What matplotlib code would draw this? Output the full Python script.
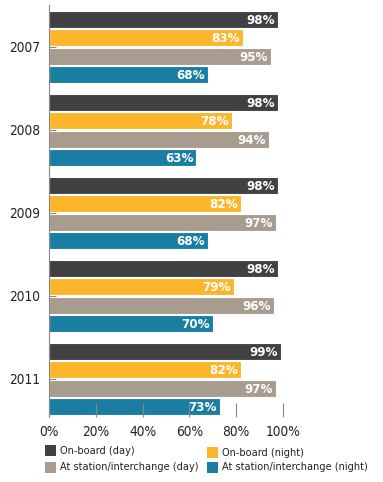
import matplotlib
matplotlib.use("Agg")
import matplotlib.pyplot as plt
from matplotlib.patches import Rectangle

plt.rcParams['font.family'] = ['DejaVu Sans']
plt.rcParams['font.stretch'] = 'condensed'

years = ["2007", "2008", "2009", "2010", "2011"]
series_names = ["On-board (day)", "On-board (night)",
                "At station/interchange (day)", "At station/interchange (night)"]
onboard_day = [98, 98, 98, 98, 99]
onboard_night = [83, 78, 82, 79, 82]
station_day = [95, 94, 97, 96, 97]
station_night = [68, 63, 68, 70, 73]
values = [onboard_day, onboard_night, station_day, station_night]
colors = ["#414042", "#FBB62C", "#A89C8E", "#1A7EA3"]
xticks = [0, 20, 40, 60, 80, 100]
xticklabels = ["0%", "20%", "40%", "60%", "80%", "100%"]

W, H = 383, 482
fig = plt.figure(figsize=(W/100, H/100), dpi=100)
ax = fig.add_axes([49/W, 65/H, 234/W, 412/H])

pitch = 18.5/83
h = 17/83
for s, (vals, col) in enumerate(zip(values, colors)):
    for g, v in enumerate(vals):
        y = g + (s - 1.5) * pitch
        ax.barh(y, v, height=h, color=col, edgecolor="white", linewidth=0.8)
        ax.text(v - 1.3, y + 0.01, f"{v}%", ha="right", va="center",
                color="white", fontsize=9.5, fontweight="bold")

ax.set_xlim(0, 100)
ax.set_ylim(4 + 0.458, -0.506)
ax.set_yticks(range(len(years)))
ax.set_yticklabels(years, fontsize=9.8, color="#222222")
ax.set_xticks(xticks)
ax.set_xticklabels(xticklabels, fontsize=9.8, color="#222222")
for sp in ["top", "right", "bottom"]:
    ax.spines[sp].set_visible(False)
ax.spines["left"].set_color("#888888")
ax.spines["left"].set_linewidth(0.8)
ax.tick_params(axis="x", direction="in", length=10, color="#888888", width=0.8, pad=6)
ax.tick_params(axis="y", direction="in", length=5, color="#888888", width=0.8, pad=6.5)

# legend (2 x 2), positions in pixels from top-left
leg_pos = [(45, 445), (207, 447), (45, 462), (207, 462)]
for (px, py), name, col in zip(leg_pos, series_names, colors):
    fig.add_artist(Rectangle((px/W, 1 - (py + 11)/H), 11/W, 11/H,
                             transform=fig.transFigure, facecolor=col,
                             edgecolor="none"))
    fig.text((px + 15)/W, 1 - (py + 5.5)/H, name, ha="left", va="center",
             fontsize=7.8, color="#222222")

fig.savefig("out.png", dpi=100)
